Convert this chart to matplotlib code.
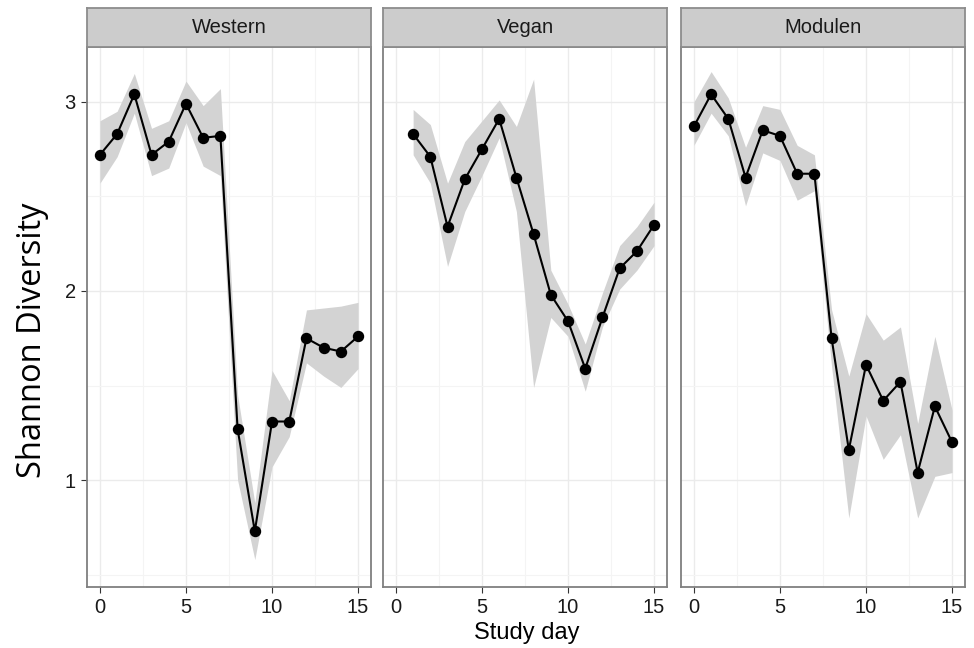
import numpy as np
import matplotlib
matplotlib.use("Agg")
import matplotlib.pyplot as plt
from matplotlib.ticker import MultipleLocator

plt.rcParams['font.family'] = ['Liberation Sans', 'DejaVu Sans']

diets = ["Western", "Vegan", "Modulen"]

western_day = list(range(0, 16))
western_mean = [2.72, 2.83, 3.04, 2.72, 2.79, 2.99, 2.81, 2.82, 1.27, 0.73, 1.31, 1.31, 1.75, 1.70, 1.68, 1.76]
western_hi = [2.90, 2.95, 3.15, 2.86, 2.90, 3.11, 2.98, 3.07, 1.45, 0.88, 1.58, 1.42, 1.90, 1.91, 1.92, 1.94]
western_lo = [2.57, 2.71, 2.94, 2.61, 2.65, 2.89, 2.66, 2.61, 1.00, 0.58, 1.07, 1.23, 1.62, 1.55, 1.49, 1.59]

vegan_day = list(range(1, 16))
vegan_mean = [2.83, 2.71, 2.34, 2.59, 2.75, 2.91, 2.60, 2.30, 1.98, 1.84, 1.59, 1.86, 2.12, 2.21, 2.35]
vegan_hi = [2.96, 2.88, 2.57, 2.79, 2.90, 3.01, 2.87, 3.12, 2.11, 1.93, 1.72, 1.99, 2.24, 2.34, 2.47]
vegan_lo = [2.72, 2.57, 2.13, 2.42, 2.61, 2.81, 2.42, 1.49, 1.86, 1.76, 1.47, 1.81, 2.01, 2.11, 2.24]

modulen_day = list(range(0, 16))
modulen_mean = [2.87, 3.04, 2.91, 2.60, 2.85, 2.82, 2.62, 2.62, 1.75, 1.16, 1.61, 1.42, 1.52, 1.04, 1.39, 1.20]
modulen_hi = [3.00, 3.16, 3.02, 2.76, 2.98, 2.96, 2.77, 2.72, 1.90, 1.55, 1.88, 1.74, 1.81, 1.30, 1.76, 1.37]
modulen_lo = [2.77, 2.94, 2.82, 2.45, 2.73, 2.69, 2.48, 2.53, 1.60, 0.80, 1.34, 1.11, 1.24, 0.80, 1.02, 1.04]

series = [
    (western_day, western_mean, western_hi, western_lo),
    (vegan_day, vegan_mean, vegan_hi, vegan_lo),
    (modulen_day, modulen_mean, modulen_hi, modulen_lo),
]

W, H = 974, 648
fig = plt.figure(figsize=(W / 100, H / 100), dpi=100)

panel_left = [87, 383, 681]
panel_w = 284
top, bottom, strip_top = 47, 587, 8

for i, (name, (d, m, hi, lo)) in enumerate(zip(diets, series)):
    x0 = panel_left[i]
    ax = fig.add_axes([x0 / W, (H - bottom) / H, panel_w / W, (bottom - top) / H])
    ax.fill_between(d, lo, hi, color="#d3d3d3", lw=0, zorder=2)
    ax.plot(d, m, color="black", lw=1.5, zorder=3)
    ax.plot(d, m, "o", color="black", ms=7.2, zorder=4)
    ax.set_xlim(-0.75, 15.75)
    ax.set_ylim(0.435, 3.29)
    ax.xaxis.set_major_locator(MultipleLocator(5))
    ax.xaxis.set_minor_locator(MultipleLocator(2.5))
    ax.yaxis.set_major_locator(MultipleLocator(1))
    ax.yaxis.set_minor_locator(MultipleLocator(0.5))
    ax.grid(which="major", color="#ebebeb", lw=1.0, zorder=0)
    ax.grid(which="minor", color="#f4f4f4", lw=0.8, zorder=0)
    ax.set_axisbelow(True)
    for s in ax.spines.values():
        s.set_color("#7f7f7f")
        s.set_linewidth(1.3)
    ax.tick_params(which="minor", length=0)
    ax.tick_params(which="major", length=4, color="#333333", labelsize=14.5,
                   labelcolor="#1a1a1a", pad=4)
    if i > 0:
        ax.tick_params(axis="y", labelleft=False, length=0)

    sax = fig.add_axes([x0 / W, (H - top) / H, panel_w / W, (top - strip_top) / H])
    sax.set_facecolor("#cccccc")
    sax.set_xticks([])
    sax.set_yticks([])
    for s in sax.spines.values():
        s.set_color("#8c8c8c")
        s.set_linewidth(1.3)
    sax.text(0.5, 0.5, name, ha="center", va="center", fontsize=14.5,
             color="#1a1a1a", transform=sax.transAxes)

fig.text(527 / W, 1 - 633 / H, "Study day", ha="center", va="center", fontsize=17)
fig.text(33 / W, 1 - 340 / H, "Shannon Diversity", ha="center", va="center",
         rotation=90, fontsize=23.5, family=["Open Sans", "DejaVu Sans"])

fig.savefig("out.png", dpi=100)
